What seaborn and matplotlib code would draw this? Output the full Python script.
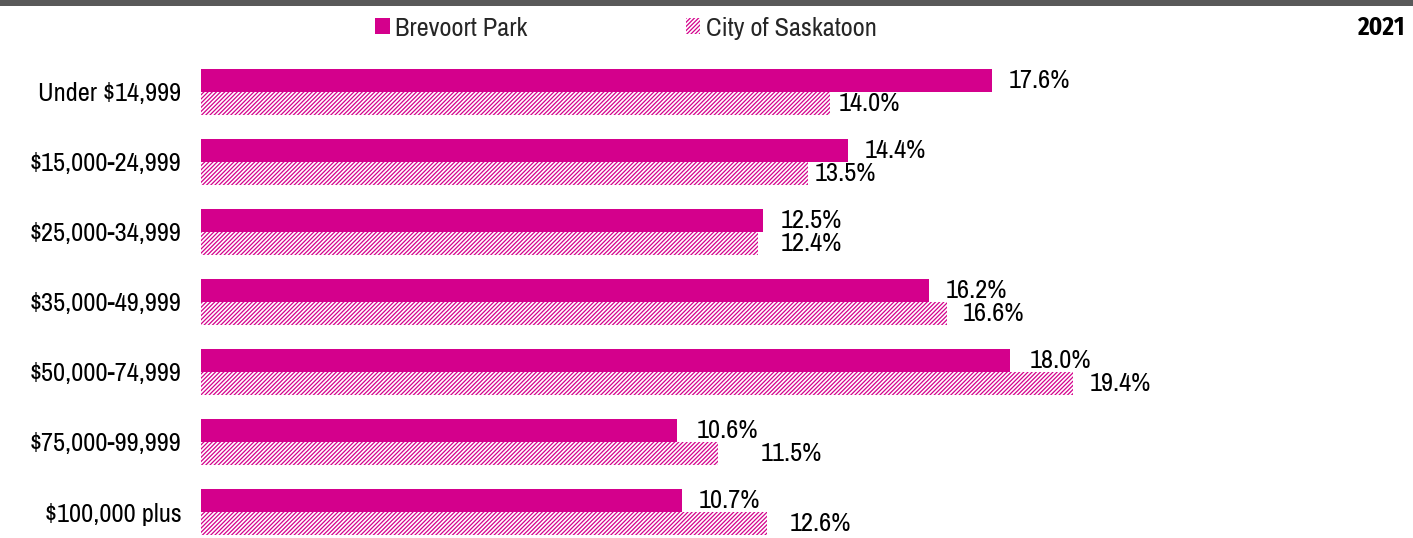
import matplotlib
matplotlib.use('Agg')
import matplotlib.pyplot as plt
from matplotlib.patches import Patch, Rectangle
import pandas as pd
import seaborn as sns

categories = ['Under $14,999', '$15,000-24,999', '$25,000-34,999', '$35,000-49,999',
              '$50,000-74,999', '$75,000-99,999', '$100,000 plus']
brevoort = [17.6, 14.4, 12.5, 16.2, 18.0, 10.6, 10.7]
saskatoon = [14.0, 13.5, 12.4, 16.6, 19.4, 11.5, 12.6]
series = ['Brevoort Park', 'City of Saskatoon']
year = '2021'

magenta = '#D4008C'
HATCH = '////////'

sns.set_theme(style='white')
plt.rcParams['font.family'] = ['Archivo Narrow', 'DejaVu Sans']
plt.rcParams['hatch.linewidth'] = 0.9

df = pd.DataFrame({
    'income': categories * 2,
    'pct': brevoort + saskatoon,
    'area': [series[0]] * len(categories) + [series[1]] * len(categories),
})

fig = plt.figure(figsize=(14.13, 5.38), dpi=100)
ax = fig.add_axes([201 / 1413, 0.0, 1212 / 1413, 488 / 538])

sns.barplot(data=df, y='income', x='pct', hue='area', hue_order=series,
            orient='h', palette=[magenta, magenta], saturation=1,
            width=0.67, linewidth=0, legend=False, ax=ax)

# second series: white with diagonal magenta hatch
for p in ax.containers[1]:
    p.set_facecolor('white')
    p.set_edgecolor(magenta)
    p.set_hatch(HATCH)
    p.set_linewidth(0)

ax.set_xlim(0, 1212 / 44.94)
ax.set_ylim(6 + 26 / 70, -0.6)
ax.set_xlabel('')
ax.set_ylabel('')
ax.set_xticks([])
ax.tick_params(axis='y', length=0, pad=14, labelsize=19, labelcolor='black')
for s in ax.spines.values():
    s.set_visible(False)

# value labels (offsets nudged like the original)
pads_b = [12, 12, 13, 12, 14, 14, 12]
pads_s = [6, 5, 16, 11, 12, 31, 16]
for cont, vals, pads in [(ax.containers[0], brevoort, pads_b),
                         (ax.containers[1], saskatoon, pads_s)]:
    for p, v, pad in zip(cont, vals, pads):
        ax.annotate(f'{v:.1f}%', (p.get_x() + p.get_width(), p.get_y() + p.get_height() / 2),
                    xytext=(pad, 0), textcoords='offset points',
                    ha='left', va='center', fontsize=19, color='black')

# legend
handles = [Patch(facecolor=magenta, edgecolor=magenta, linewidth=0),
           Patch(facecolor='white', edgecolor=magenta, hatch=HATCH, linewidth=0)]
fig.legend(handles, series, ncol=2, loc='center', bbox_to_anchor=(626 / 1413, 1 - 28 / 538),
           frameon=False, fontsize=19, handlelength=0.55, handleheight=0.55,
           handletextpad=0.2, columnspacing=6.0)

fig.text(1405 / 1413, 1 - 28 / 538, year, ha='right', va='center',
         fontsize=18, fontweight='bold', color='black',
         family=['Fira Sans Condensed', 'DejaVu Sans'])

# grey band across the top
fig.patches.append(Rectangle((0, 1 - 6 / 538), 1, 6 / 538, transform=fig.transFigure,
                             facecolor='#595959', edgecolor='none', zorder=0))

fig.savefig('out.png', dpi=100)
